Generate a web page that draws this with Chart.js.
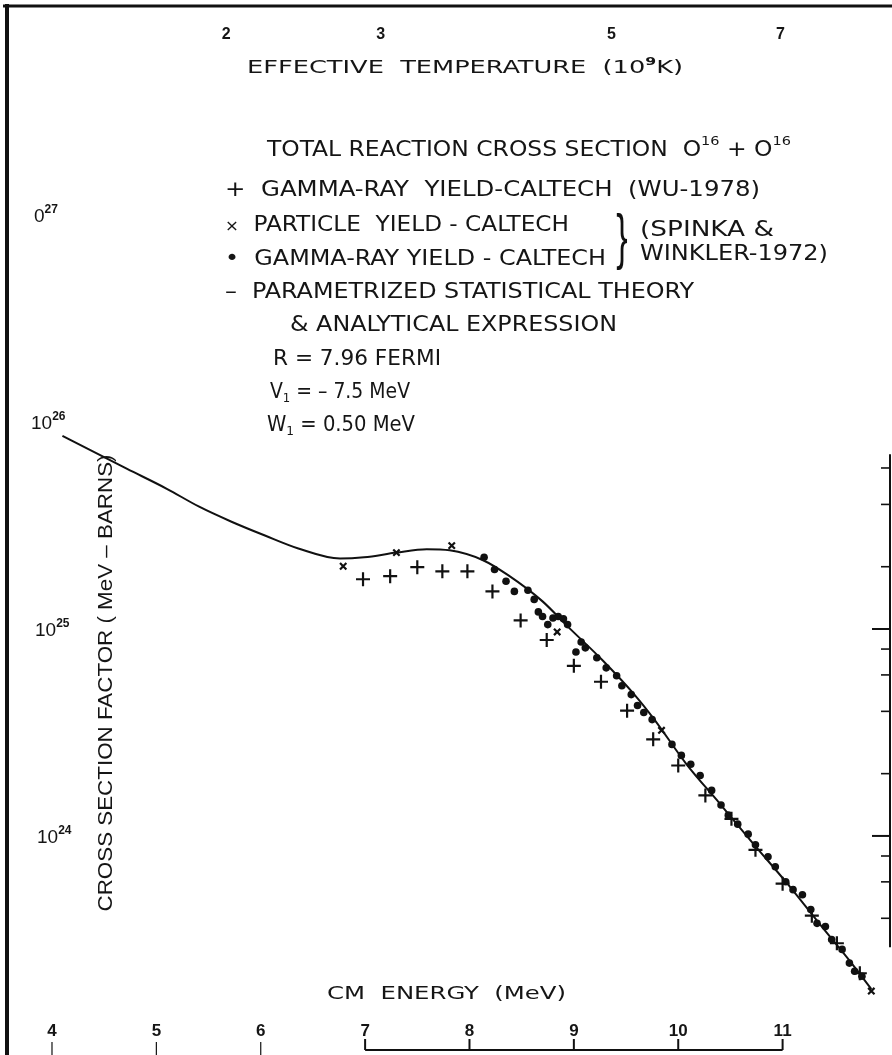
<!DOCTYPE html>
<html>
<head>
<meta charset="utf-8">
<title>Total reaction cross section O16 + O16</title>
<script src="https://cdn.jsdelivr.net/npm/chart.js@4.4.1/dist/chart.umd.min.js"></script>
<style>
  html, body { margin: 0; padding: 0; background: #fff; }
  #wrap { position: relative; width: 892px; height: 1055px; }
</style>
</head>
<body>
<div id="wrap"><canvas id="chart"></canvas></div>
<script>
// values: CM energy (MeV) vs cross section factor (MeV-barns)
const theoryEnergy = [4.10, 4.72, 5.10, 5.41, 5.72, 6.04, 6.36, 6.76, 6.99, 7.30, 7.59, 7.81, 8.13, 8.37, 8.70, 8.94, 9.27, 9.58, 9.77, 10.08, 10.40, 10.72, 11.03, 11.35, 11.66, 11.85];
const theoryS = [8.57e25, 5.94e25, 4.76e25, 3.90e25, 3.30e25, 2.83e25, 2.45e25, 2.19e25, 2.22e25, 2.34e25, 2.43e25, 2.40e25, 2.15e25, 1.82e25, 1.36e25, 1.03e25, 7.10e24, 4.82e24, 3.66e24, 2.22e24, 1.43e24, 9.16e23, 6.01e23, 3.78e23, 2.43e23, 1.82e23];

// + gamma-ray yield, Caltech (Wu 1978)
const wuEnergy = [6.98, 7.24, 7.50, 7.74, 7.98, 8.22, 8.49, 8.74, 9.00, 9.26, 9.51, 9.76, 10.00, 10.26, 10.51, 10.74, 11.00, 11.28, 11.52, 11.74];
const wuS = [1.74e25, 1.80e25, 1.99e25, 1.90e25, 1.90e25, 1.52e25, 1.10e25, 8.85e24, 6.64e24, 5.56e24, 4.03e24, 2.93e24, 2.19e24, 1.57e24, 1.21e24, 8.57e23, 5.88e23, 4.12e23, 3.03e23, 2.17e23];

// x particle yield, Caltech (Spinka & Winkler 1972)
const particleEnergy = [6.79, 7.30, 7.83, 8.84, 9.84, 11.85];
const particleS = [2.01e25, 2.34e25, 2.53e25, 9.68e24, 3.24e24, 1.78e23];

// . gamma-ray yield, Caltech (Spinka & Winkler 1972)
const gammaEnergy = [8.14, 8.24, 8.35, 8.43, 8.56, 8.62, 8.66, 8.70, 8.75, 8.80, 8.85, 8.90, 8.94, 9.02, 9.07, 9.11, 9.22, 9.31, 9.41, 9.46, 9.55, 9.61, 9.67, 9.75, 9.94, 10.03, 10.12, 10.21, 10.32, 10.41, 10.48, 10.57, 10.67, 10.74, 10.86, 10.93, 11.03, 11.10, 11.19, 11.27, 11.33, 11.41, 11.47, 11.57, 11.64, 11.69, 11.76];
const gammaS = [2.22e25, 1.94e25, 1.70e25, 1.52e25, 1.54e25, 1.39e25, 1.21e25, 1.15e25, 1.05e25, 1.13e25, 1.15e25, 1.12e25, 1.05e25, 7.74e24, 8.66e24, 8.11e24, 7.26e24, 6.49e24, 5.94e24, 5.32e24, 4.82e24, 4.27e24, 3.95e24, 3.65e24, 2.77e24, 2.45e24, 2.22e24, 1.96e24, 1.66e24, 1.41e24, 1.26e24, 1.14e24, 1.02e24, 9.06e23, 7.93e23, 7.10e23, 6.01e23, 5.50e23, 5.20e23, 4.41e23, 3.78e23, 3.65e23, 3.16e23, 2.83e23, 2.43e23, 2.22e23, 2.10e23];

// axes
const energyMin = 3.59, energyMax = 11.96;
const sMin = 9.68e22, sMax = 9.89e27;
const energyTicks = [4, 5, 6, 7, 8, 9, 10, 11];
const energyLineFrom = 7, energyLineTo = 11;
const tempLabels = ["2", "3", "5", "7"];
const tempTickEnergy = [5.67, 7.15, 9.36, 10.98];
const decadeValues = [1e27, 1e26, 1e25, 1e24];
const decadeLabels = [["0", "27"], ["10", "26"], ["10", "25"], ["10", "24"]];
const rightMajorTicks = [1e25, 1e24];
const rightMinorTicks = [6e25, 4e25, 2e25, 8e24, 6e24, 4e24, 2e24, 8e23, 6e23, 4e23];
const rightAxisRange = [2.9e23, 7.0e25];

const toPoints = (xs, ys) => xs.map((x, i) => ({ x: x, y: ys[i] }));

const LETTER = '"DejaVu Sans Condensed", "DejaVu Sans", sans-serif';
const HELV = '"Liberation Sans", Arial, sans-serif';

function drawRich(ctx, parts, x, y, opt) {
    const size = opt.size;
    const fontFor = k => {
        if (k === "sup" || k === "sub") return (opt.supWeight || "normal") + " " + Math.round(size * 0.62) + "px " + opt.family;
        if (k === "small") return "normal " + Math.round(size * 0.7) + "px " + opt.family;
        return (opt.weight || "normal") + " " + size + "px " + opt.family;
    };
    let total = 0;
    const widths = parts.map(p => {
        ctx.font = fontFor(p[1]);
        const w = ctx.measureText(p[0]).width;
        total += w;
        return w;
    });
    const sx = opt.width ? opt.width / total : 1;
    let start = x;
    if (opt.align === "center") start = x - total * sx / 2;
    ctx.save();
    ctx.translate(start, y);
    ctx.scale(sx, 1);
    ctx.textBaseline = "alphabetic";
    ctx.textAlign = "left";
    ctx.fillStyle = "#151515";
    let cx = 0;
    parts.forEach((p, i) => {
        ctx.font = fontFor(p[1]);
        let dy = size * 0.36;
        if (p[1] === "sup") dy -= size * 0.48;
        if (p[1] === "sub") dy += size * 0.22;
        ctx.fillText(p[0], cx, dy);
        cx += widths[i];
    });
    ctx.restore();
}

const figureDecor = {
    id: "figureDecor",
    afterDraw(chart) {
        const ctx = chart.ctx;
        const xs = chart.scales.x, ys = chart.scales.y;
        ctx.save();
        ctx.strokeStyle = "#111";
        ctx.lineCap = "butt";

        // frame: top and left
        ctx.lineWidth = 3;
        ctx.beginPath(); ctx.moveTo(3, 6); ctx.lineTo(892, 6); ctx.stroke();
        ctx.lineWidth = 4;
        ctx.beginPath(); ctx.moveTo(7, 4); ctx.lineTo(7, 1055); ctx.stroke();

        // right axis, partial, with inward ticks
        const rx = 890;
        ctx.lineWidth = 2;
        ctx.beginPath();
        ctx.moveTo(rx, ys.getPixelForValue(rightAxisRange[1]));
        ctx.lineTo(rx, ys.getPixelForValue(rightAxisRange[0]));
        ctx.stroke();
        rightMajorTicks.forEach(v => {
            const py = ys.getPixelForValue(v);
            ctx.beginPath(); ctx.moveTo(rx, py); ctx.lineTo(rx - 18, py); ctx.stroke();
        });
        ctx.lineWidth = 1.6;
        rightMinorTicks.forEach(v => {
            const py = ys.getPixelForValue(v);
            ctx.beginPath(); ctx.moveTo(rx, py); ctx.lineTo(rx - 9, py); ctx.stroke();
        });

        // bottom energy axis
        const by = 1050;
        ctx.lineWidth = 2;
        ctx.beginPath();
        ctx.moveTo(xs.getPixelForValue(energyLineFrom), by);
        ctx.lineTo(xs.getPixelForValue(energyLineTo), by);
        ctx.stroke();
        energyTicks.forEach(e => {
            const px = xs.getPixelForValue(e);
            ctx.beginPath();
            if (e < energyLineFrom) {
                ctx.lineWidth = 1.2;
                ctx.moveTo(px, 1042); ctx.lineTo(px, 1055);
            } else {
                ctx.lineWidth = 2;
                ctx.moveTo(px, 1039); ctx.lineTo(px, by);
            }
            ctx.stroke();
            drawRich(ctx, [[String(e), ""]], px, 1030, { size: 17, family: HELV, weight: "bold", align: "center" });
        });

        // top temperature labels
        tempLabels.forEach((t, i) => {
            drawRich(ctx, [[t, ""]], xs.getPixelForValue(tempTickEnergy[i]), 33, { size: 16, family: HELV, weight: "bold", align: "center" });
        });

        // left decade labels
        const labelX = [34, 31, 35, 37];
        decadeValues.forEach((v, i) => {
            drawRich(ctx, [[decadeLabels[i][0], ""], [decadeLabels[i][1], "sup"]], labelX[i], ys.getPixelForValue(v),
                { size: 19, family: HELV, supWeight: "bold" });
        });
        ctx.restore();

        // axis titles
        drawRich(ctx, [["EFFECTIVE  TEMPERATURE  (10", ""], ["9", "sup"], ["K)", ""]], 247, 67,
            { size: 18, family: LETTER, supWeight: "bold", width: 436 });
        drawRich(ctx, [["CM  ENERGY  (MeV)", ""]], 327, 993, { size: 18, family: LETTER, width: 239 });
        ctx.save();
        ctx.translate(105, 683);
        ctx.rotate(-Math.PI / 2);
        drawRich(ctx, [["CROSS SECTION FACTOR ( MeV \u2013 BARNS)", ""]], 0, 0, { size: 20, family: HELV, width: 457, align: "center" });
        ctx.restore();

        // legend block
        const L = { size: 21, family: LETTER };
        drawRich(ctx, [["TOTAL REACTION CROSS SECTION  O", ""], ["16", "sup"], [" + O", ""], ["16", "sup"]], 267, 148, Object.assign({ width: 524 }, L));
        drawRich(ctx, [["+  GAMMA-RAY  YIELD-CALTECH  (WU-1978)", ""]], 225, 188, Object.assign({ width: 535 }, L));
        drawRich(ctx, [["\u00d7", "small"], ["  PARTICLE  YIELD - CALTECH", ""]], 225, 223, Object.assign({ width: 344 }, L));
        drawRich(ctx, [["\u2022", ""], ["  GAMMA-RAY YIELD - CALTECH", ""]], 225, 257, Object.assign({ width: 381 }, L));
        drawRich(ctx, [["\u2013  PARAMETRIZED STATISTICAL THEORY", ""]], 225, 290, Object.assign({ width: 469 }, L));
        drawRich(ctx, [["& ANALYTICAL EXPRESSION", ""]], 290, 323, Object.assign({ width: 327 }, L));
        drawRich(ctx, [["R = 7.96 FERMI", ""]], 273, 357, Object.assign({ width: 168 }, L));
        drawRich(ctx, [["V", ""], ["1", "sub"], [" = \u2013 7.5 MeV", ""]], 270, 390, Object.assign({ width: 140 }, L));
        drawRich(ctx, [["W", ""], ["1", "sub"], [" = 0.50 MeV", ""]], 267, 423, Object.assign({ width: 148 }, L));
        drawRich(ctx, [["(SPINKA &", ""]], 640, 228, Object.assign({ width: 134 }, L));
        drawRich(ctx, [["WINKLER-1972)", ""]], 640, 252, Object.assign({ width: 188 }, L));
        ctx.save();
        ctx.translate(622, 240);
        ctx.scale(0.55, 1);
        ctx.font = "normal 62px " + HELV;
        ctx.textAlign = "center";
        ctx.textBaseline = "middle";
        ctx.fillStyle = "#111";
        ctx.fillText("}", 0, 0);
        ctx.restore();
    }
};

new Chart(document.getElementById("chart"), {
    type: "scatter",
    data: {
        datasets: [
            {
                label: "Parametrized statistical theory & analytical expression",
                data: toPoints(theoryEnergy, theoryS),
                showLine: true,
                cubicInterpolationMode: "monotone",
                borderColor: "#111",
                borderWidth: 2,
                pointRadius: 0
            },
            {
                label: "Gamma-ray yield - Caltech (Spinka & Winkler 1972)",
                data: toPoints(gammaEnergy, gammaS),
                pointStyle: "circle",
                pointRadius: 3.8,
                backgroundColor: "#111",
                borderColor: "#111",
                borderWidth: 0
            },
            {
                label: "Gamma-ray yield - Caltech (Wu 1978)",
                data: toPoints(wuEnergy, wuS),
                pointStyle: "cross",
                pointRadius: 7,
                borderColor: "#111",
                borderWidth: 2.2
            },
            {
                label: "Particle yield - Caltech",
                data: toPoints(particleEnergy, particleS),
                pointStyle: "crossRot",
                pointRadius: 4.5,
                borderColor: "#111",
                borderWidth: 2.2
            }
        ]
    },
    options: {
        responsive: true,
        maintainAspectRatio: false,
        animation: false,
        layout: { padding: { left: 8, top: 8, right: 1, bottom: 5 } },
        plugins: { legend: { display: false }, tooltip: { enabled: false } },
        scales: {
            x: { type: "linear", display: false, min: energyMin, max: energyMax, bounds: "data" },
            y: { type: "logarithmic", display: false, min: sMin, max: sMax, bounds: "data" }
        }
    },
    plugins: [figureDecor]
});
</script>
</body>
</html>
